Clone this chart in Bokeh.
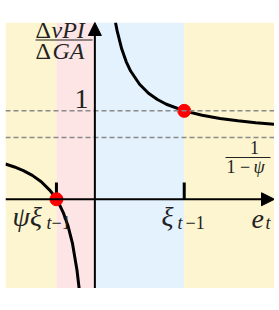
from bokeh.plotting import figure
from bokeh.models import Range1d, Arrow, NormalHead, Span
from bokeh.core.properties import value
from bokeh.embed import file_html
from bokeh.resources import INLINE

# ---- data ----
xi = 1.0            # xi_{t-1}
psi_xi = -0.43      # psi * xi_{t-1}
level_one = 1.0
level_inv = 0.70    # 1/(1-psi)
dash_levels = [level_one, level_inv]

left_x = [-1.0, -0.9, -0.8, -0.7, -0.6, -0.5, -0.45, -0.43, -0.4, -0.35, -0.3, -0.25, -0.2, -0.176]
left_y = [0.399, 0.365, 0.323, 0.270, 0.198, 0.098, 0.031, 0.0, -0.052, -0.160, -0.303, -0.503, -0.804, -1.009]
right_x = [0.231, 0.25, 0.3, 0.35, 0.4, 0.5, 0.6, 0.7, 0.8, 1.0, 1.2, 1.4, 1.6, 1.8, 2.01]
right_y = [2.0, 1.902, 1.702, 1.558, 1.451, 1.301, 1.200, 1.129, 1.075, 1.0, 0.950, 0.914, 0.887, 0.866, 0.849]

region_left = [-1.0, psi_xi, 0.0, xi]
region_right = [psi_xi, 0.0, xi, 2.01]
region_colors = ["#fdf5cf", "#fde5e6", "#e3f2fd", "#fdf5cf"]

point_x = [xi, psi_xi]
point_y = [level_one, 0.0]
tick_x = [psi_xi, xi]

X0, X1 = -1.0, 2.01
Y0, Y1 = -1.01, 2.0
FW, FH = 269, 266
FL, FT = 5, 22
TEXT_DY = -6


def X(px):
    return X0 + (px - FL) / FW * (X1 - X0)


def Y(py):
    return Y1 - (py - FT) / FH * (Y1 - Y0)


p = figure(width=FW, height=FH + 14, x_range=Range1d(X0, X1), y_range=Range1d(Y0, Y1),
           x_axis_type=None, y_axis_type=None, toolbar_location=None,
           output_backend="svg", min_border_left=0, min_border_right=0,
           min_border_top=14, min_border_bottom=0)
p.margin = (8, 0, 0, 5)
p.outline_line_color = None
p.grid.visible = False
p.background_fill_color = "white"
p.border_fill_color = "white"

p.quad(left=region_left, right=region_right, bottom=Y0, top=Y1,
       fill_color=region_colors, line_color=None)

for lv in dash_levels:
    p.add_layout(Span(location=lv, dimension="width", line_color="#8a8a8a",
                      line_dash="5 3", line_width=1.5))

# axes with arrow heads
p.add_layout(Arrow(end=NormalHead(size=13, fill_color="black", line_color="black"),
                   x_start=X0, y_start=0, x_end=X1, y_end=0, line_width=2, line_color="black"))
p.add_layout(Arrow(end=NormalHead(size=13, fill_color="black", line_color="black"),
                   x_start=0, y_start=Y0, x_end=0, y_end=Y1, line_width=2, line_color="black"))

p.segment(x0=tick_x, y0=[0, 0], x1=tick_x, y1=[0.19, 0.19], line_width=3, line_color="black")

p.line(left_x, left_y, line_width=3, line_color="black")
p.line(right_x, right_y, line_width=3, line_color="black")

p.scatter(point_x, point_y, size=13, fill_color="#ff0000", line_color="#ff0000")

# labels: (text, px, py, size, italic, align)
labels = [
    ("Δ", 35, 35, 24, False, "left"),
    ("νPI", 51, 35, 24, True, "left"),
    ("Δ", 35, 56, 24, False, "left"),
    ("GA", 52, 56, 24, True, "left"),
    ("1", 88, 104, 28, False, "right"),
    ("1", 254, 153, 18, False, "center"),
    ("1 −", 226, 172, 18, False, "left"),
    ("ψ", 253, 172, 18, True, "left"),
    ("ψξ", 12, 222, 28, True, "left"),
    ("t", 46, 228, 18, True, "left"),
    ("−1", 51, 228, 18, False, "left"),
    ("ξ", 161, 222, 28, True, "left"),
    ("t", 177, 228, 18, True, "left"),
    ("−1", 185, 228, 18, False, "left"),
    ("e", 251, 224, 28, True, "left"),
    ("t", 265, 228, 18, True, "left"),
]
for t, px, py, sz, it, al in labels:
    p.text(x=[X(px)], y=[Y(py + TEXT_DY)], text=[t], text_font=value("Liberation Serif"),
           text_font_size=f"{sz}px", text_font_style="italic" if it else "normal",
           text_align=al, text_baseline="alphabetic", text_color="#222222")

# fraction bars
p.segment(x0=[X(35), X(225)], y0=[Y(39.5), Y(157)], x1=[X(92), X(270)], y1=[Y(39.5), Y(157)],
          line_width=1.2, line_color="#222222")

open("out.html", "w").write(file_html(p, INLINE))
